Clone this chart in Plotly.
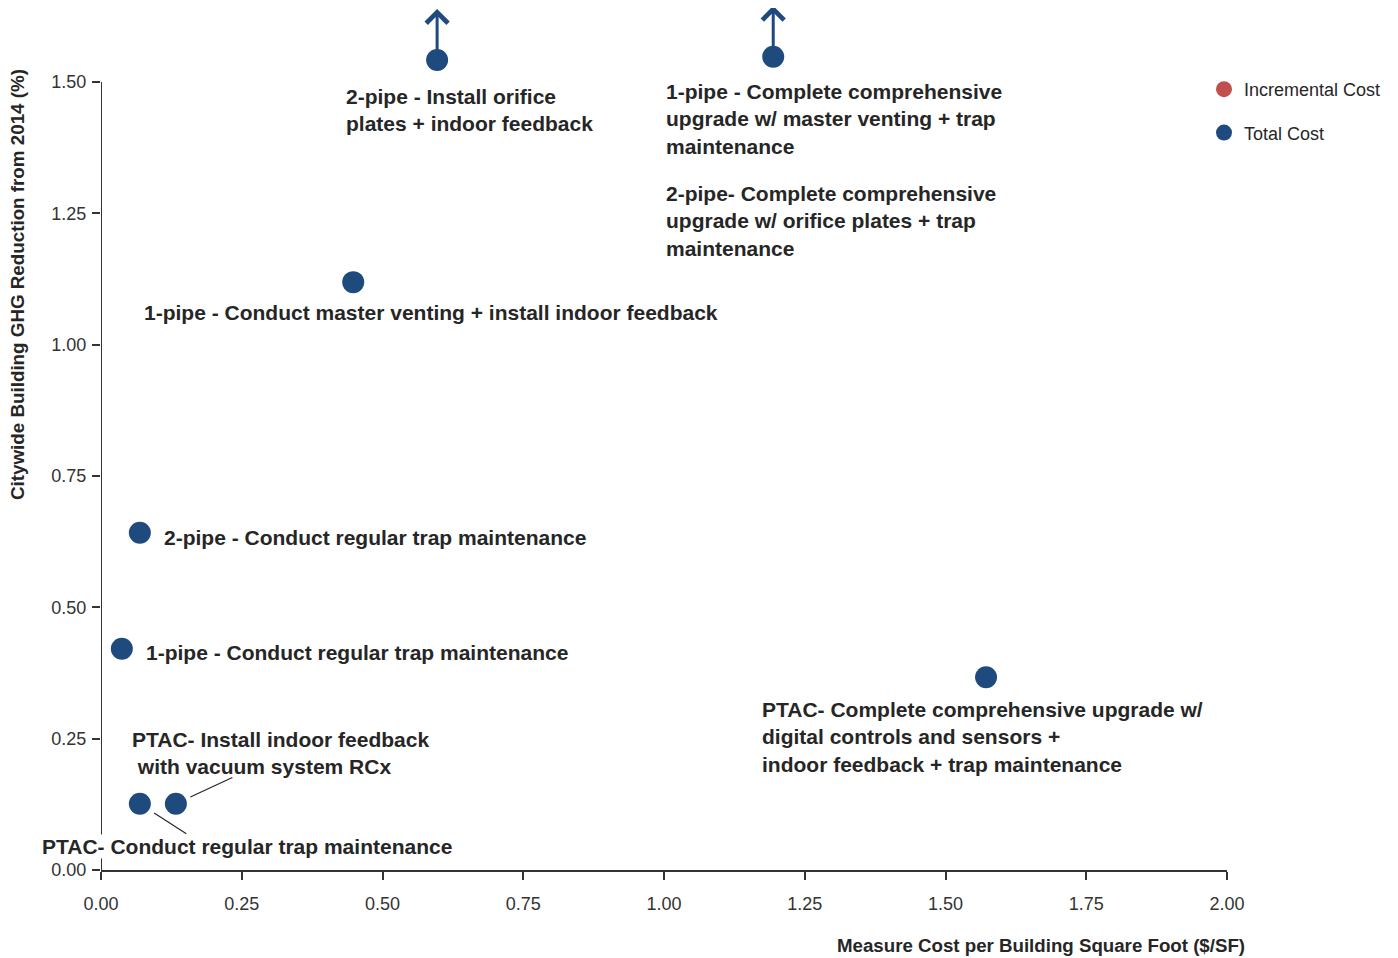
import plotly.graph_objects as go

# ---- data ----
measures = [
    "2-pipe - Install orifice plates + indoor feedback",
    "1-pipe - Complete comprehensive upgrade w/ master venting + trap maintenance",
    "1-pipe - Conduct master venting + install indoor feedback",
    "2-pipe - Conduct regular trap maintenance",
    "1-pipe - Conduct regular trap maintenance",
    "PTAC- Complete comprehensive upgrade w/ digital controls and sensors + indoor feedback + trap maintenance",
    "PTAC- Conduct regular trap maintenance",
    "PTAC- Install indoor feedback with vacuum system RCx",
]
cost_total = [0.597, 1.194, 0.448, 0.069, 0.037, 1.572, 0.069, 0.133]
ghg_reduction = [1.542, 1.548, 1.119, 0.642, 0.421, 0.367, 0.126, 0.126]
off_scale = [True, True, False, False, False, False, False, False]

x_ticks = [0, 0.25, 0.5, 0.75, 1.0, 1.25, 1.5, 1.75, 2.0]
y_ticks = [0, 0.25, 0.5, 0.75, 1.0, 1.25, 1.5]
y_axis_top = 1.5

BLUE = "#1f4a7e"
RED = "#c0504d"
TXT = "#262626"
AX = "#333333"
LBL_FONT = "Liberation Sans, Arial"

# page has an 8px body margin; work in figure pixels
OFF = 8
W, H = 1398 - OFF, 958 - OFF
L, R, B = 101 - OFF, 1227 - OFF, 870 - OFF
T = 0
Y_1_5_PX = 82 - OFF
px_per_unit_y = (B - Y_1_5_PX) / y_axis_top
y_max = (B - T) / px_per_unit_y

def pxx(px):  # screen px -> paper x
    return (px - OFF - L) / (R - L)
def pxy(py):  # screen px -> paper y
    return (B - (py - OFF)) / (B - T)

fig = go.Figure()
fig.add_trace(go.Scatter(
    x=[None], y=[None], mode="markers", name="Incremental Cost",
    marker=dict(color=RED, size=22), legendgroup="a",
))
fig.add_trace(go.Scatter(
    x=cost_total, y=ghg_reduction, mode="markers", name="Total Cost",
    marker=dict(color=BLUE, size=22), cliponaxis=False, legendgroup="b",
    text=measures, hoverinfo="text",
))

labels = [
    ("2-pipe - Install orifice<br>plates + indoor feedback", 345, 110, False),
    ("1-pipe - Complete comprehensive<br>upgrade w/ master venting + trap<br>maintenance", 665, 119, False),
    ("2-pipe- Complete comprehensive<br>upgrade w/ orifice plates + trap<br>maintenance", 665, 221, False),
    ("1-pipe - Conduct master venting + install indoor feedback", 143, 312, False),
    ("2-pipe - Conduct regular trap maintenance", 163, 537, False),
    ("1-pipe - Conduct regular trap maintenance", 145, 652, False),
    ("PTAC- Install indoor feedback<br> with vacuum system RCx", 131, 753, False),
    ("PTAC- Conduct regular trap maintenance", 41, 846, True),
    ("PTAC- Complete comprehensive upgrade w/<br>digital controls and sensors +<br>indoor feedback + trap maintenance", 761, 737, False),
]
anns = []
for text, px, py, bg in labels:
    anns.append(dict(
        x=pxx(px), y=pxy(py), xref="paper", yref="paper", text="<b>" + text + "</b>",
        showarrow=False, xanchor="left", yanchor="middle", align="left",
        font=dict(family=LBL_FONT, size=21, color=TXT),
        bgcolor="white" if bg else "rgba(0,0,0,0)", borderpad=0,
    ))

# off-scale arrows
for xv, yv, o in zip(cost_total, ghg_reduction, off_scale):
    if o:
        anns.append(dict(
            x=xv, y=yv, xref="x", yref="y", text="", showarrow=True,
            ax=0, ay=51, yshift=51, arrowhead=4, arrowsize=1.4, arrowwidth=3,
            arrowcolor=BLUE,
        ))

# leader lines for PTAC points
anns.append(dict(x=cost_total[7], y=ghg_reduction[7], xref="x", yref="y", text="",
                 showarrow=True, ax=58, ay=-27, arrowhead=0, arrowwidth=1.2,
                 arrowcolor=TXT, standoff=16))
anns.append(dict(x=cost_total[6], y=ghg_reduction[6], xref="x", yref="y", text="",
                 showarrow=True, ax=48, ay=31, arrowhead=0, arrowwidth=1.2,
                 arrowcolor=TXT, standoff=17))

# axis titles
anns.append(dict(
    x=pxx(17), y=pxy(285), xref="paper", yref="paper",
    text="<b>Citywide Building GHG Reduction from 2014 (%)</b>", textangle=-90,
    showarrow=False, xanchor="center", yanchor="middle",
    font=dict(family=LBL_FONT, size=18.8, color=TXT),
))
anns.append(dict(
    x=pxx(1247), y=pxy(945), xref="paper", yref="paper",
    text="<b>Measure Cost per Building Square Foot ($/SF)</b>",
    showarrow=False, xanchor="right", yanchor="middle",
    font=dict(family=LBL_FONT, size=18.7, color=TXT),
))

shapes = [dict(type="line", xref="x", yref="y", x0=0, x1=0, y0=0, y1=y_axis_top,
               line=dict(color=AX, width=2))]

tick_common = dict(
    showgrid=False, zeroline=False, ticks="outside", ticklen=8, tickwidth=2,
    tickcolor=AX, tickfont=dict(family=LBL_FONT, size=18, color=AX),
)
fig.update_layout(
    width=W, height=H,
    margin=dict(l=L, r=W - R, t=T, b=H - B, autoexpand=False),
    plot_bgcolor="white", paper_bgcolor="white",
    xaxis=dict(range=[0, 2.0], tickvals=x_ticks, tickformat=".2f",
               showline=True, linecolor=AX, linewidth=2,
               ticklabelstandoff=8, **tick_common),
    yaxis=dict(range=[0, y_max], tickvals=y_ticks, tickformat=".2f",
               showline=False, ticklabelstandoff=2, **tick_common),
    annotations=anns,
    shapes=shapes,
    showlegend=True,
    legend=dict(x=pxx(1204), y=pxy(71), xanchor="left",
                yanchor="top", font=dict(family=LBL_FONT, size=18, color=TXT),
                tracegroupgap=17, bgcolor="rgba(0,0,0,0)", itemwidth=30),
)
fig.write_html("out.html")
